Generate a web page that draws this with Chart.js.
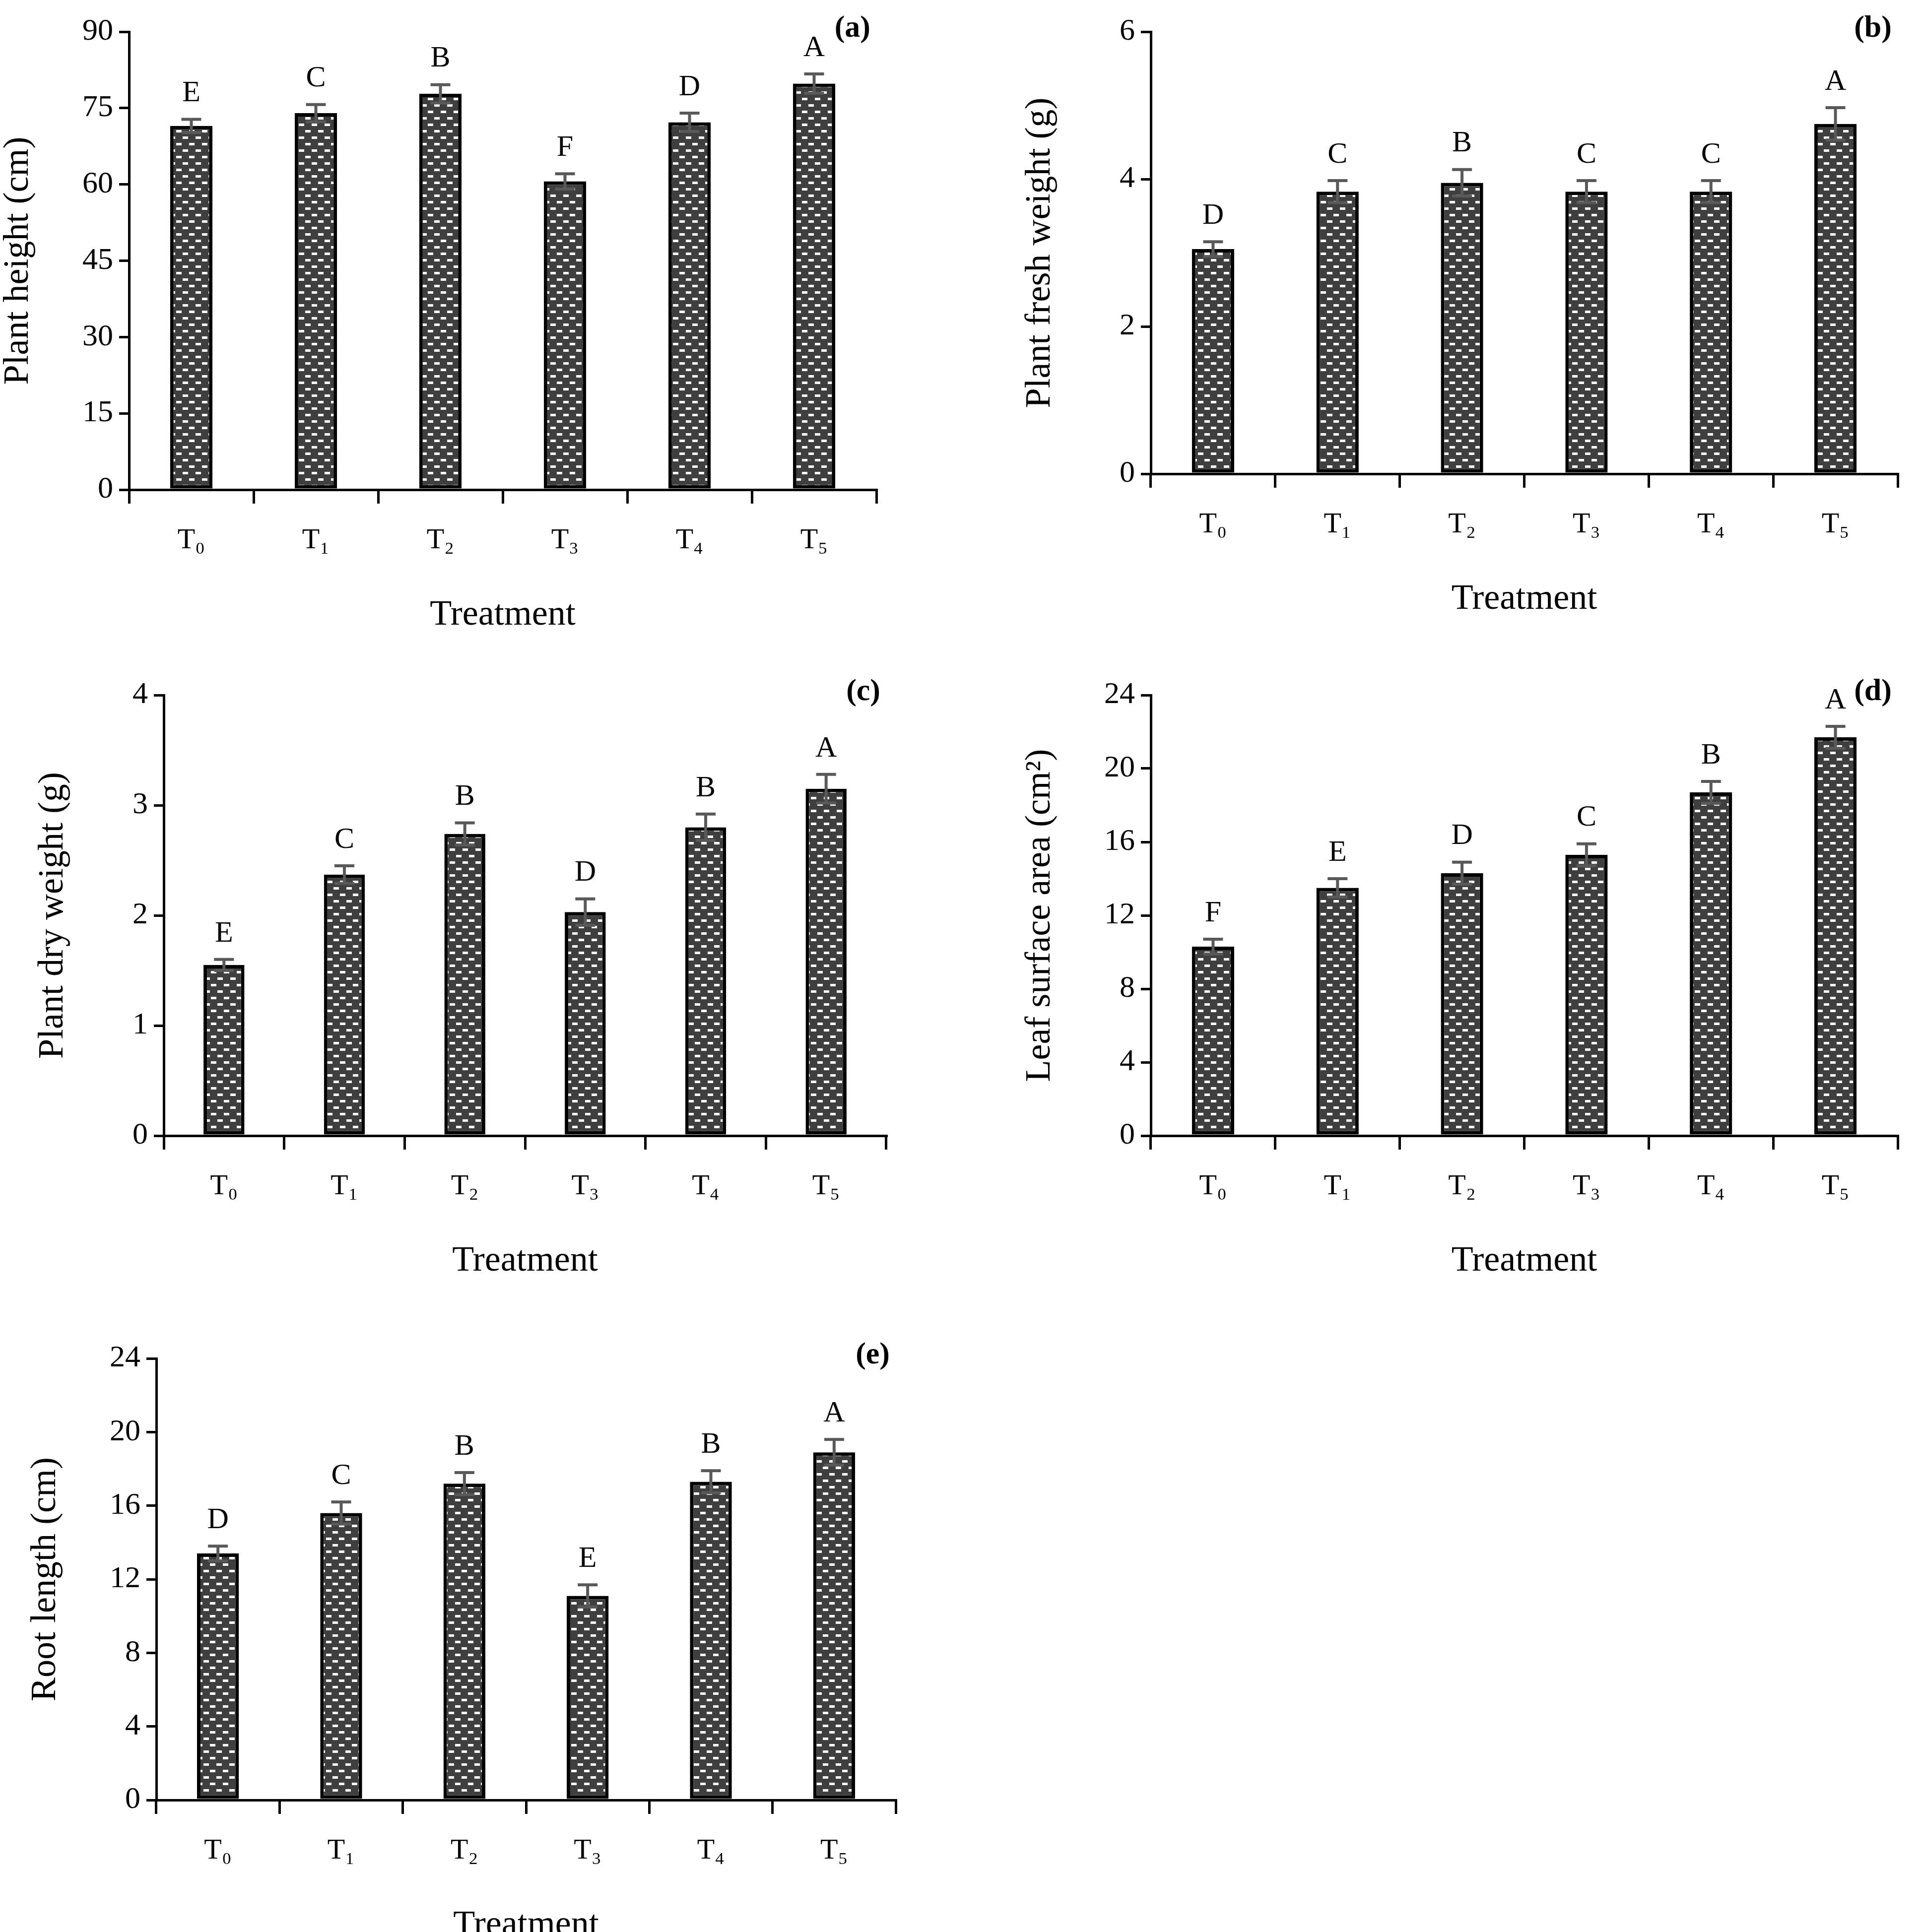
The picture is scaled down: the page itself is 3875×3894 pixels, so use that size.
<!DOCTYPE html>
<html><head><meta charset="utf-8">
<script src="https://cdn.jsdelivr.net/npm/chart.js@4"></script>
<style>html,body{margin:0;padding:0;background:#fff;width:3875px;height:3894px;overflow:hidden;position:relative}
.p{position:absolute}</style></head><body>
<script>
const categories = ['T\u2080','T\u2081','T\u2082','T\u2083','T\u2084','T\u2085'];
const heightVals = [71.5, 74.0, 77.8, 60.6, 72.2, 79.8];
const heightErr  = [1.3, 1.7, 1.8, 1.5, 1.8, 1.9];
const heightLet  = ['E','C','B','F','D','A'];
const freshVals = [3.05, 3.83, 3.95, 3.83, 3.83, 4.75];
const freshErr  = [0.10, 0.15, 0.18, 0.15, 0.15, 0.22];
const freshLet  = ['D','C','B','C','C','A'];
const dryVals = [1.55, 2.37, 2.74, 2.03, 2.80, 3.15];
const dryErr  = [0.05, 0.08, 0.10, 0.12, 0.12, 0.13];
const dryLet  = ['E','C','B','D','B','A'];
const leafVals = [10.3, 13.5, 14.3, 15.3, 18.7, 21.7];
const leafErr  = [0.4, 0.5, 0.6, 0.6, 0.6, 0.6];
const leafLet  = ['F','E','D','C','B','A'];
const rootVals = [13.4, 15.6, 17.2, 11.1, 17.3, 18.9];
const rootErr  = [0.4, 0.6, 0.6, 0.6, 0.6, 0.7];
const rootLet  = ['D','C','B','E','B','A'];

const FONT = '"Liberation Serif","DejaVu Serif",serif';

function makePattern(){
  const c = document.createElement('canvas'); c.width = 26; c.height = 26;
  const g = c.getContext('2d');
  g.fillStyle = '#3f3f3f'; g.fillRect(0,0,26,26);
  g.fillStyle = '#ffffff';
  g.fillRect(1,2,11,5); g.fillRect(14,15,11,5);
  return g.createPattern(c,'repeat');
}
const pattern = makePattern();

const overlay = {
  id:'overlay',
  afterDatasetsDraw(chart){
    const o = chart.options.plugins.overlay;
    const ctx = chart.ctx, y = chart.scales.y, meta = chart.getDatasetMeta(0);
    ctx.save();
    meta.data.forEach((bar,i)=>{
      const v = o.vals[i], e = o.err[i];
      const yt = y.getPixelForValue(v+e), yb = y.getPixelForValue(v-e);
      ctx.strokeStyle = '#595959'; ctx.lineWidth = 6;
      ctx.beginPath(); ctx.moveTo(bar.x, yt); ctx.lineTo(bar.x, yb);
      ctx.moveTo(bar.x-20, yt); ctx.lineTo(bar.x+20, yt);
      ctx.moveTo(bar.x-20, yb); ctx.lineTo(bar.x+20, yb); ctx.stroke();
      ctx.fillStyle = '#000'; ctx.font = '60px '+FONT;
      ctx.textAlign = 'center'; ctx.textBaseline = 'bottom';
      ctx.fillText(o.letters[i], bar.x, yt-22);
    });
    ctx.font = 'bold 62px '+FONT; ctx.textAlign='right'; ctx.textBaseline='middle';
    ctx.fillText(o.label, chart.chartArea.right-12, chart.chartArea.top-6);
    ctx.restore();
  }
};

function panel(id, L, T, R, B, vals, err, letters, max, step, ytitle, label){
  const cl = L-270, ct = Math.max(0,T-70), cw = R-cl+60, ch = B-ct+300;
  const d = document.createElement('div'); d.className='p';
  d.style.left=cl+'px'; d.style.top=ct+'px'; d.style.width=cw+'px'; d.style.height=ch+'px';
  const c = document.createElement('canvas'); d.appendChild(c); document.body.appendChild(d);
  new Chart(c,{
    type:'bar',
    data:{labels:categories, datasets:[{data:vals, backgroundColor:pattern, borderColor:'#000', borderWidth:7, borderSkipped:false, barPercentage:0.34, categoryPercentage:1}]},
    options:{
      responsive:true, maintainAspectRatio:false, animation:false, devicePixelRatio:1,
      layout:{padding:{top:T-ct, right:60, left:0, bottom:0}},
      plugins:{legend:{display:false}, tooltip:{enabled:false}, overlay:{vals, err, letters, label}},
      scales:{
        x:{grid:{display:true, drawOnChartArea:false, color:'#000', lineWidth:5, tickLength:28, offset:true},
           border:{color:'#000', width:5},
           ticks:{color:'#000', font:{family:FONT, size:58}, padding:40},
           title:{display:true, text:'Treatment', color:'#000', font:{family:FONT, size:72}, padding:{top:20}},
           afterFit(s){ s.height = ch - (B-ct); }},
        y:{min:0, max:max, ticks:{stepSize:step, color:'#000', font:{family:FONT, size:62}, padding:12},
           grid:{drawOnChartArea:false, color:'#000', lineWidth:5, tickLength:20},
           border:{color:'#000', width:5},
           title:{display:true, text:ytitle, color:'#000', font:{family:FONT, size:72}, padding:{bottom:10}},
           afterFit(s){ s.width = 270; }}
      }
    },
    plugins:[overlay]
  });
}
panel('a', 260, 64, 1766, 987, heightVals, heightErr, heightLet, 90, 15, 'Plant height (cm)', '(a)');
panel('b', 2319, 64, 3824, 955, freshVals, freshErr, freshLet, 6, 2, 'Plant fresh weight (g)', '(b)');
panel('c', 330, 1401, 1786, 2289, dryVals, dryErr, dryLet, 4, 1, 'Plant dry weight (g)', '(c)');
panel('d', 2319, 1401, 3824, 2289, leafVals, leafErr, leafLet, 24, 4, 'Leaf surface area (cm\u00B2)', '(d)');
panel('e', 315, 2738, 1805, 3628, rootVals, rootErr, rootLet, 24, 4, 'Root length (cm)', '(e)');
</script></body></html>
